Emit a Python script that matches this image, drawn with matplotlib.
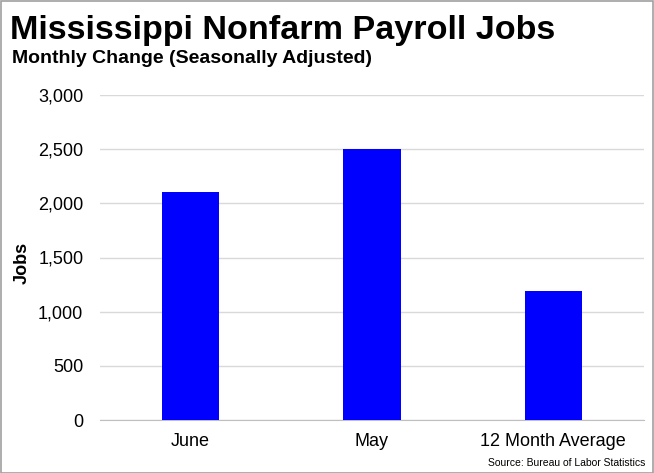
import matplotlib.pyplot as plt
from matplotlib.ticker import FuncFormatter
from matplotlib.patches import Rectangle

categories = ["June", "May", "12 Month Average"]
jobs = [2100, 2500, 1190]

plt.rcParams['font.family'] = ['Liberation Sans', 'DejaVu Sans']

fig = plt.figure(figsize=(6.54, 4.73), dpi=100)
ax = fig.add_axes([100 / 654, 53 / 473, 544 / 654, 325 / 473])

ax.bar(range(len(categories)), jobs, width=0.315, color="#0000ff", zorder=3)
ax.set_xlim(-0.5, 2.5)
ax.set_ylim(0, 3000)
ax.set_yticks(range(0, 3001, 500))
ax.yaxis.set_major_formatter(FuncFormatter(lambda v, p: f"{int(v):,}"))
ax.set_xticks(range(len(categories)))
ax.set_xticklabels(categories)
ax.tick_params(axis="both", length=0, labelsize=13)
ax.tick_params(axis="x", pad=9)
ax.tick_params(axis="y", pad=12)
ax.grid(axis="y", color="#d9d9d9", linewidth=1, zorder=0)
for s in ["top", "right", "left"]:
    ax.spines[s].set_visible(False)
ax.spines["bottom"].set_color("#bfbfbf")
ax.set_ylabel("Jobs", fontsize=13, fontweight="bold")
ax.yaxis.set_label_coords(-0.128, 0.483)

fig.text(10 / 654, 1 - 30 / 473, "Mississippi Nonfarm Payroll Jobs", fontsize=24.6,
         fontweight="bold", va="center", ha="left")
fig.text(12 / 654, 1 - 58 / 473, "Monthly Change (Seasonally Adjusted)", fontsize=14,
         fontweight="bold", va="center", ha="left")
fig.text(645 / 654, 1 - 463 / 473, "Source: Bureau of Labor Statistics", fontsize=7.5,
         va="center", ha="right")

fig.patches.append(Rectangle((0.001, 0.001), 0.997, 0.997, transform=fig.transFigure,
                             fill=False, edgecolor="#a0a0a0", linewidth=1.2))

fig.savefig("out.png", dpi=100)
